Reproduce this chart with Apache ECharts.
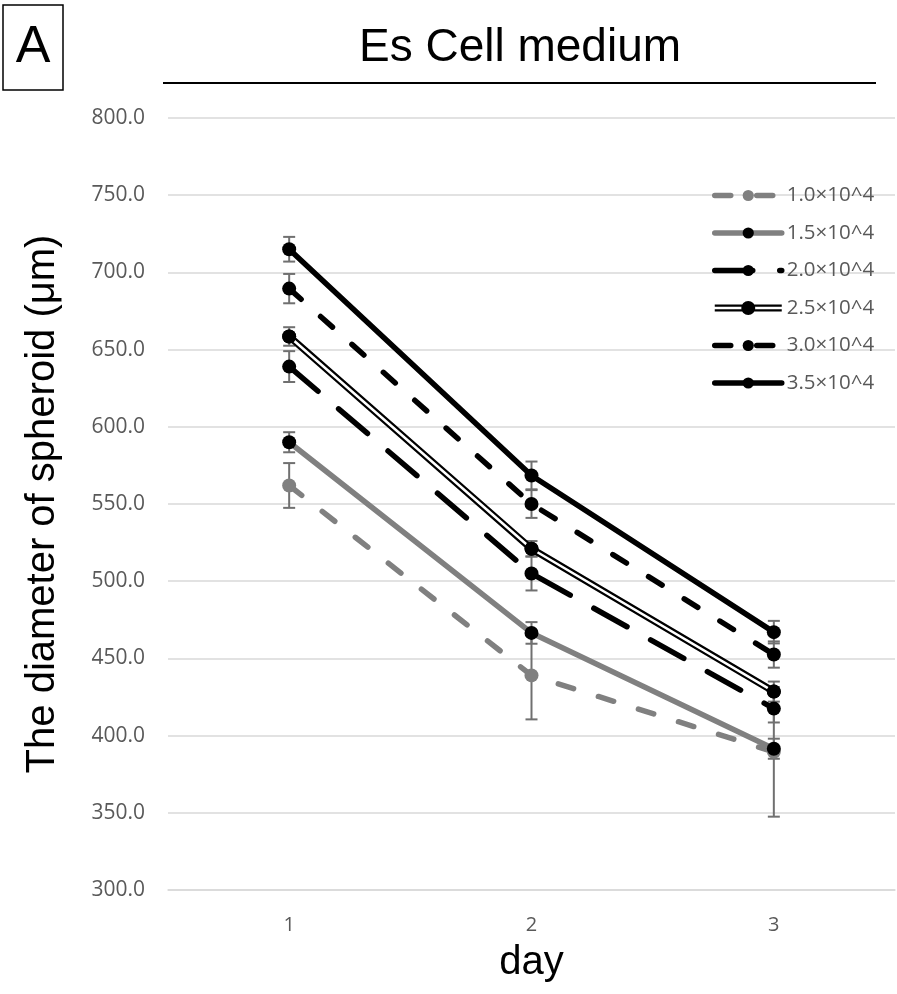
<!DOCTYPE html>
<html>
<head>
<meta charset="utf-8">
<script src="https://cdn.jsdelivr.net/npm/echarts@6/dist/echarts.min.js"></script>
<style>
html,body{margin:0;padding:0;background:#fff;}
#chart{width:897px;height:994px;}
</style>
</head>
<body>
<div id="chart"></div>
<script>
// ---- data ----
const days = ['1', '2', '3'];
const seriesNames = ['1.0×10^4', '1.5×10^4', '2.0×10^4', '2.5×10^4', '3.0×10^4', '3.5×10^4'];
const v10 = [562, 439, 389.5];
const v15 = [590, 466.5, 391.5];
const v20 = [639, 505, 417.5];
const v25 = [658.5, 521, 428.5];
const v30 = [689.5, 550, 452.5];
const v35 = [715, 568.5, 467];
const e10 = [14.5, 28.5, 42];
const e15 = [6.5, 7, 6.5];
const e20 = [10, 11, 9];
const e25 = [6, 5, 6.5];
const e30 = [9.5, 9, 8.5];
const e35 = [8, 9, 7.3];
const yTicks = { min: 300, max: 800, step: 50 };
const titleText = 'Es Cell medium';
const panelLabel = 'A';
const yName = 'The diameter of spheroid (μm)';
const xName = 'day';

const values = [v10, v15, v20, v25, v30, v35];
const errors = [e10, e15, e20, e25, e30, e35];

const GRAY = '#808080';
const BLACK = '#000000';
const tickFont = '"Open Sans", sans-serif';
const bigFont = '"Liberation Sans", Arial, sans-serif';
const LW = 5.5;

function lineSeries(name, data, color, markerColor, type, width, z) {
  return {
    name: name, type: 'line', data: data, z: z,
    symbol: 'circle', symbolSize: 14, showSymbol: true,
    itemStyle: { color: markerColor, borderWidth: 0 },
    lineStyle: { color: color, width: width, type: type, cap: 'round' },
    emphasis: { disabled: true },
    animation: false
  };
}

// error bar series
const errData = [];
values.forEach((vals, si) => {
  vals.forEach((v, i) => { errData.push([i, v, errors[si][i]]); });
});

const errSeries = {
  type: 'custom', name: 'err', z: 1, animation: false, silent: true,
  data: errData,
  encode: { x: 0, y: 1 },
  renderItem: function (params, api) {
    const x = api.value(0), y = api.value(1), e = api.value(2);
    const top = api.coord([x, y + e]);
    const bot = api.coord([x, y - e]);
    const hw = 6;
    const st = { stroke: '#707070', lineWidth: 2 };
    return {
      type: 'group',
      children: [
        { type: 'line', shape: { x1: top[0], y1: top[1], x2: bot[0], y2: bot[1] }, style: st },
        { type: 'line', shape: { x1: top[0] - hw, y1: top[1], x2: top[0] + hw, y2: top[1] }, style: st },
        { type: 'line', shape: { x1: bot[0] - hw, y1: bot[1], x2: bot[0] + hw, y2: bot[1] }, style: st }
      ]
    };
  }
};

const series = [
  errSeries,
  lineSeries(seriesNames[0], v10, GRAY, GRAY, [16, 26], LW, 2),
  lineSeries(seriesNames[1], v15, GRAY, BLACK, 'solid', LW, 3),
  lineSeries(seriesNames[2], v20, BLACK, BLACK, [38, 27], LW, 4),
  lineSeries(seriesNames[3], v25, BLACK, BLACK, 'solid', 7, 5),
  lineSeries(seriesNames[3], v25, '#ffffff', BLACK, 'solid', 2.5, 5),
  lineSeries(seriesNames[4], v30, BLACK, BLACK, [16, 26], LW, 6),
  lineSeries(seriesNames[5], v35, BLACK, BLACK, 'solid', LW, 7)
];

const doubleLineIcon = 'path://M0,3.5H67V10.5H0Z M0,5.8V8.2H67V5.8Z M26.5,7A7,7 0 1,1 40.5,7A7,7 0 1,1 26.5,7Z';

const legendData = seriesNames.map(function (n, i) {
  if (i === 3) return { name: n, icon: doubleLineIcon };
  return { name: n, lineStyle: { width: LW } };
});

const chart = echarts.init(document.getElementById('chart'), null, { renderer: 'canvas' });
chart.setOption({
  backgroundColor: '#ffffff',
  animation: false,
  grid: { left: 168, right: 2, top: 118, bottom: 104, containLabel: false },
  legend: {
    data: legendData,
    orient: 'vertical',
    left: 707, top: 180,
    itemWidth: 67, itemHeight: 14, itemGap: 16.5,
    textStyle: { fontFamily: tickFont, fontSize: 20.5, color: '#595959', lineHeight: 20, padding: [0, 0, 0, 0] },
    selectedMode: false
  },
  xAxis: {
    type: 'category', data: days, boundaryGap: true,
    name: xName, nameLocation: 'middle', nameGap: 53,
    nameTextStyle: { fontFamily: bigFont, fontSize: 40, color: '#000' },
    axisLine: { show: true, lineStyle: { color: '#d9d9d9', width: 1.5 } },
    axisTick: { show: false },
    axisLabel: { fontFamily: tickFont, fontSize: 20, color: '#595959', margin: 25 },
    splitLine: { show: false }
  },
  yAxis: {
    type: 'value', min: yTicks.min, max: yTicks.max, interval: yTicks.step,
    name: yName, nameLocation: 'middle', nameGap: 105,
    nameTextStyle: { fontFamily: bigFont, fontSize: 40, color: '#000' },
    axisLine: { show: false }, axisTick: { show: false },
    axisLabel: { fontFamily: tickFont, fontSize: 21, color: '#595959', margin: 23,
      formatter: function (v) { return v.toFixed(1); } },
    splitLine: { show: true, lineStyle: { color: '#d9d9d9', width: 1.5 } }
  },
  graphic: [
    { type: 'rect', shape: { x: 3, y: 5, width: 60, height: 85 }, style: { fill: 'none', stroke: '#000', lineWidth: 1.5 } },
    { type: 'text', x: 33, y: 48, style: { text: panelLabel, font: '52px ' + bigFont, fill: '#000', align: 'center', verticalAlign: 'middle' } },
    { type: 'text', x: 520, y: 48, style: { text: titleText, font: '46px ' + bigFont, fill: '#000', align: 'center', verticalAlign: 'middle' } },
    { type: 'line', shape: { x1: 163, y1: 83, x2: 876, y2: 83 }, style: { stroke: '#000', lineWidth: 2 } }
  ],
  series: series
});
</script>
</body>
</html>
